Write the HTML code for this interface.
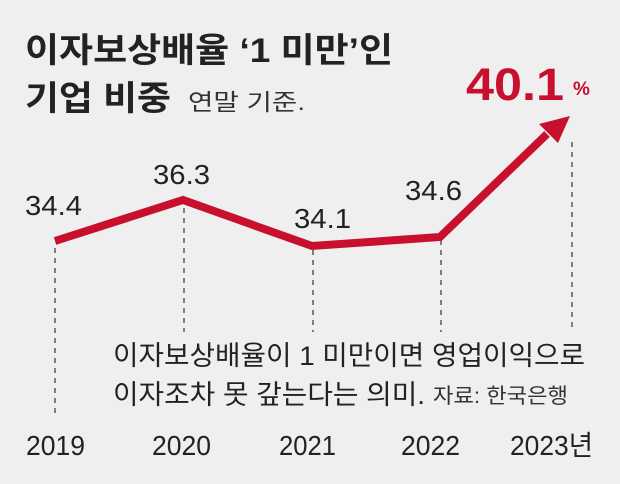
<!DOCTYPE html>
<html><head><meta charset="utf-8"><style>
html,body{margin:0;padding:0;background:#efefef;}
svg{display:block;}
text{font-family:"Liberation Sans","Noto Sans CJK KR",sans-serif;}
</style></head><body>
<svg width="620" height="484" viewBox="0 0 620 484">
<rect width="620" height="484" fill="#efefef"/>
<text x="25" y="62" font-size="34" font-weight="bold" fill="#222" textLength="368" lengthAdjust="spacingAndGlyphs">이자보상배율 ‘1 미만’인</text>
<text x="25" y="110" font-size="34" font-weight="bold" fill="#222" textLength="146" lengthAdjust="spacingAndGlyphs">기업 비중</text>
<text x="188" y="110" font-size="23" fill="#333" textLength="117" lengthAdjust="spacingAndGlyphs">연말 기준.</text>
<text x="466" y="100" font-size="45" font-weight="bold" fill="#c8102e" textLength="98" lengthAdjust="spacingAndGlyphs">40.1</text>
<text x="573" y="95" font-size="19" font-weight="bold" fill="#c8102e">%</text>
<g stroke="#333" stroke-width="1.2" stroke-dasharray="5,5" fill="none">
<line x1="55" y1="248" x2="55" y2="418"/>
<line x1="184" y1="208" x2="184" y2="332"/>
<line x1="313" y1="250" x2="313" y2="332"/>
<line x1="441" y1="240" x2="441" y2="332"/>
<line x1="572" y1="142" x2="572" y2="332"/>
</g>
<polyline points="55,241 183,200 312,246 440,237 547,134" fill="none" stroke="#c8102e" stroke-width="8" stroke-linejoin="miter"/>
<polygon points="570,116 539,124 558,143" fill="#c8102e"/>
<g font-size="28" fill="#222">
<text x="25" y="215" textLength="57" lengthAdjust="spacingAndGlyphs">34.4</text>
<text x="153" y="184" textLength="57" lengthAdjust="spacingAndGlyphs">36.3</text>
<text x="294" y="228" textLength="57" lengthAdjust="spacingAndGlyphs">34.1</text>
<text x="405" y="200" textLength="57" lengthAdjust="spacingAndGlyphs">34.6</text>
</g>
<text x="113" y="365" font-size="27" fill="#222" textLength="472" lengthAdjust="spacingAndGlyphs">이자보상배율이 1 미만이면 영업이익으로</text>
<text x="113" y="404" font-size="27" fill="#222" textLength="312" lengthAdjust="spacingAndGlyphs">이자조차 못 갚는다는 의미.</text>
<text x="433" y="403" font-size="21" fill="#333" textLength="135" lengthAdjust="spacingAndGlyphs">자료: 한국은행</text>
<g font-size="28" fill="#222">
<text x="26" y="455" textLength="59" lengthAdjust="spacingAndGlyphs">2019</text>
<text x="152" y="455" textLength="59" lengthAdjust="spacingAndGlyphs">2020</text>
<text x="279" y="455" textLength="57" lengthAdjust="spacingAndGlyphs">2021</text>
<text x="401" y="455" textLength="59" lengthAdjust="spacingAndGlyphs">2022</text>
<text x="510" y="455" textLength="83" lengthAdjust="spacingAndGlyphs">2023년</text>
</g>
</svg>
</body></html>
